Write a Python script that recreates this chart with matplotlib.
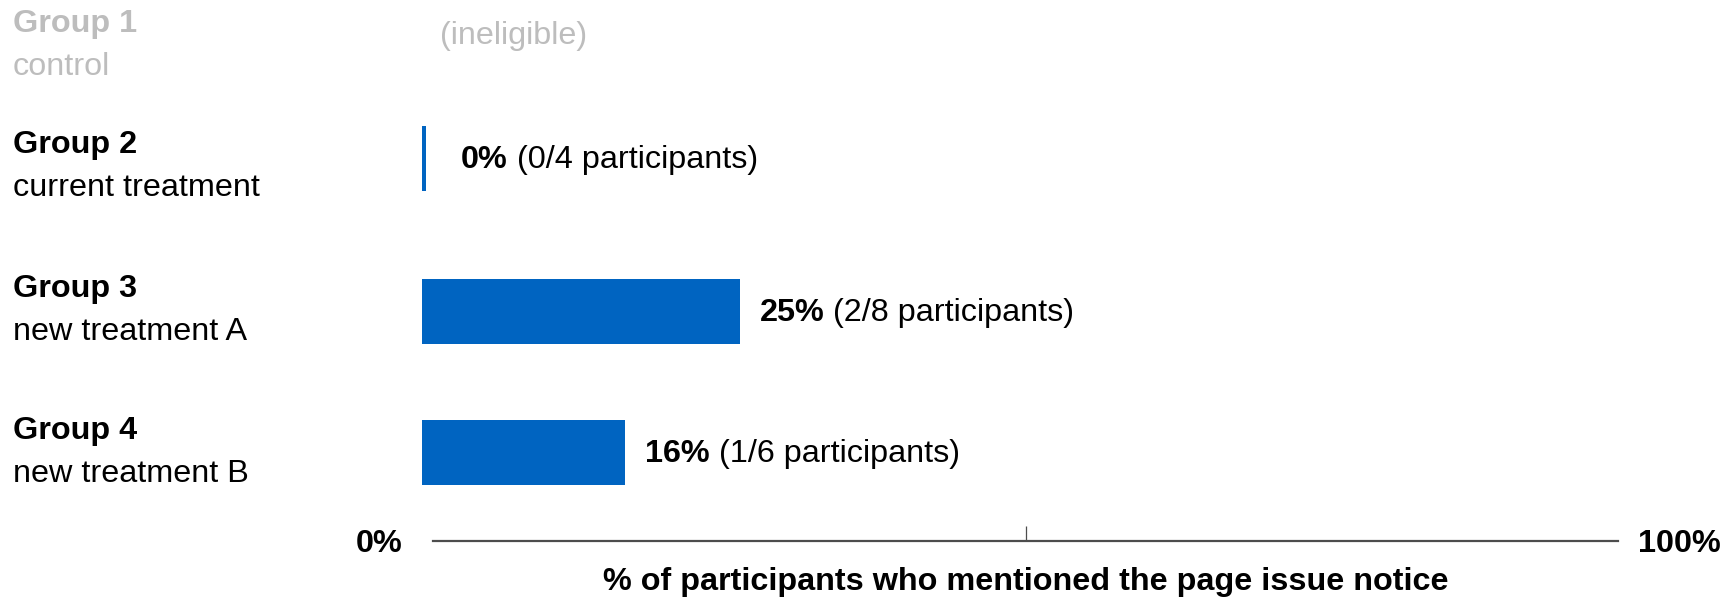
import matplotlib.pyplot as plt
from matplotlib.transforms import offset_copy

plt.rcParams["font.family"] = ["Liberation Sans", "DejaVu Sans"]

# ---- data ----
groups = ["Group 1", "Group 2", "Group 3", "Group 4"]
subtitles = ["control", "current treatment", "new treatment A", "new treatment B"]
eligible = [False, True, True, True]
pct = [None, 0, 25, 16]
counts = [None, "0/4", "2/8", "1/6"]
axis_label = "% of participants who mentioned the page issue notice"

# ---- layout (pixels) ----
W, H = 1735, 597
row_y = [40, 158, 311, 452]       # bar centers, measured from top
label_y = [45, 166, 310, 452]     # centers of the two-line group labels
bar_h = 65
bar_left_px = 422
px_per_pct = 12.7
stub_pct = 0.3                     # visible stub for a zero bar
label_x = 13
ruler_x0, ruler_x1, ruler_y = 433, 1618, 541

BLUE = "#0064C1"
GREY = "#BDBDBD"
FS = 23.3

fig = plt.figure(figsize=(W / 100, H / 100), dpi=100)
ax = fig.add_axes([0, 0, 1, 1])
ax.set_xlim(-bar_left_px / px_per_pct, (W - bar_left_px) / px_per_pct)
ax.set_ylim(H, 0)
ax.axis("off")

for i, g in enumerate(groups):
    c = "black" if eligible[i] else GREY
    ly = label_y[i]
    ax.text(label_x / W, 1 - (ly - 21) / H, g, transform=ax.transAxes,
            fontsize=FS, fontweight="bold", color=c, va="center", ha="left")
    ax.text(label_x / W, 1 - (ly + 22) / H, subtitles[i], transform=ax.transAxes,
            fontsize=FS, color=c, va="center", ha="left")

    y = row_y[i]
    if not eligible[i]:
        ax.text(440 / W, 1 - (y - 4) / H, "(ineligible)", transform=ax.transAxes,
                fontsize=FS, color=GREY, va="center", ha="left")
        continue

    v = pct[i]
    ax.barh(y, max(v, stub_pct), height=bar_h, left=0, color=BLUE)
    gap = 35 if v == 0 else 20
    tr = offset_copy(ax.transData, fig=fig, x=gap, y=0, units="dots")
    t1 = ax.text(max(v, stub_pct), y + 2, f"{v}%", transform=tr, fontsize=FS,
                 fontweight="bold", va="center", ha="left")
    ax.annotate(f" ({counts[i]} participants)", xy=(1, 0), xycoords=t1,
                fontsize=FS, va="bottom", ha="left")

# ---- ruler axis ----
ax2 = fig.add_axes([ruler_x0 / W, 1 - ruler_y / H, (ruler_x1 - ruler_x0) / W, 0.001])
ax2.set_xlim(0, 100)
ax2.set_ylim(0, 1)
for s in ["top", "left", "right"]:
    ax2.spines[s].set_visible(False)
ax2.spines["bottom"].set_color("#4d4d4d")
ax2.spines["bottom"].set_linewidth(1.6)
ax2.set_yticks([])
ax2.set_xticks([50])
ax2.set_xticklabels([])
ax2.tick_params(axis="x", direction="in", length=11, width=0.9, color="#4d4d4d")
ax2.patch.set_visible(False)

ax2.annotate("0%", xy=(0, 0), xycoords=ax2.get_xaxis_transform(), xytext=(-31, 0),
             textcoords="offset pixels", fontsize=FS, fontweight="bold",
             ha="right", va="center_baseline")
ax2.annotate("100%", xy=(100, 0), xycoords=ax2.get_xaxis_transform(), xytext=(20, 0),
             textcoords="offset pixels", fontsize=FS, fontweight="bold",
             ha="left", va="center_baseline")
ax2.annotate(axis_label, xy=(50, 0), xycoords=ax2.get_xaxis_transform(), xytext=(0, -41),
             textcoords="offset pixels", fontsize=FS, fontweight="bold",
             ha="center", va="center")

fig.savefig("out.png", dpi=100)
